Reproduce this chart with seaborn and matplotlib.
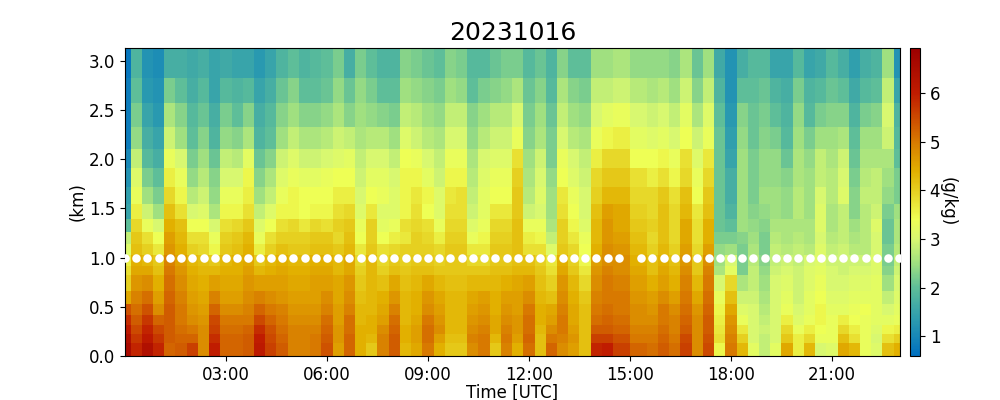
import seaborn as sns
import numpy as np
import matplotlib.pyplot as plt
import pandas as pd

# time of each profile in hours, every 20 min, the 15:00 one is missing
hours = [k / 3 for k in range(70) if k != 45]
# altitude edges of the rows (km), from top to bottom
alt_edges = [3.127, 2.82, 2.57, 2.32, 2.10, 1.91, 1.72, 1.54, 1.39, 1.26, 1.14,
             1.03, 0.91, 0.82, 0.66, 0.53, 0.42, 0.31, 0.22, 0.13, 0.0]
tick_hours = [3, 6, 9, 12, 15, 18, 21]
tick_labels = ['03:00', '06:00', '09:00', '12:00', '15:00', '18:00', '21:00']
dot_alt = 1.0

# colour stops of the bar, value and colour
cmap_stops = [0.59, 1.3, 2.0, 2.5, 3.0, 3.4, 4.0, 4.4, 5.0, 5.5, 6.0, 6.93]
cmap_colors = ['#0070c0', '#2a9ab0', '#5fbf98', '#a0e080', '#d8f870', '#eeff55',
               '#e6d020', '#e2b000', '#d87a00', '#cc4a00', '#c01c00', '#9c0000']
vmin, vmax = 0.59, 6.93

# mixing ratio (g/kg), one list per altitude row, top row first
q = [
    [0.7, 1.8, 1.2, 1.1, 1.7, 1.7, 1.6, 1.7, 1.5, 1.6, 1.5, 1.5, 1.3, 1.5, 1.8, 2.0, 1.8, 1.9, 2.0, 2.2, 1.7, 2.2, 2.0,
     1.8, 1.8, 2.3, 2.2, 2.1, 2.0, 2.3, 2.2, 1.9, 1.9, 2.1, 2.2, 2.2, 1.9, 2.1, 1.8, 2.3, 2.0, 2.0, 2.5, 2.5, 2.6,
     2.4, 2.4, 2.4, 2.3, 2.6, 2.1, 2.5, 1.6, 1.2, 1.7, 1.9, 1.9, 1.5, 1.5, 1.9, 1.5, 1.6, 1.9, 1.7, 1.4, 1.7, 1.8, 2.5, 1.2],
    [0.8, 2.0, 1.3, 1.2, 2.2, 2.0, 1.7, 1.9, 1.5, 1.9, 1.8, 1.9, 1.5, 1.7, 2.1, 2.3, 2.0, 2.0, 2.1, 2.4, 2.1, 2.4, 2.2,
     2.0, 2.0, 2.5, 2.4, 2.3, 2.2, 2.5, 2.4, 2.0, 2.2, 2.3, 2.4, 2.6, 2.1, 2.3, 1.9, 2.6, 2.3, 2.2, 2.8, 2.8, 2.9,
     2.7, 2.6, 2.7, 2.5, 2.9, 2.3, 2.8, 1.8, 1.2, 2.0, 2.0, 2.1, 1.8, 1.7, 2.2, 1.8, 1.9, 2.1, 2.0, 1.6, 1.9, 2.0, 2.8, 1.5],
    [0.8, 2.2, 1.5, 1.3, 2.6, 2.3, 1.9, 2.1, 1.7, 2.2, 2.0, 2.3, 1.7, 1.9, 2.3, 2.5, 2.3, 2.3, 2.4, 2.6, 2.3, 2.5, 2.4,
     2.3, 2.2, 2.8, 2.7, 2.5, 2.4, 2.8, 2.8, 2.3, 2.5, 2.7, 2.7, 3.0, 2.2, 2.5, 2.1, 2.8, 2.5, 2.4, 3.0, 3.2, 3.3,
     3.0, 2.9, 3.0, 2.8, 3.2, 2.6, 3.1, 2.0, 1.3, 2.3, 2.1, 2.2, 2.0, 1.8, 2.4, 1.9, 2.2, 2.3, 2.3, 1.8, 2.2, 2.3, 3.0, 1.8],
    [0.8, 2.4, 1.7, 1.5, 2.9, 2.5, 2.0, 2.3, 1.8, 2.4, 2.3, 2.6, 1.8, 2.0, 2.5, 2.8, 2.6, 2.6, 2.7, 2.9, 2.8, 2.6, 2.7,
     2.7, 2.5, 3.1, 2.9, 2.7, 2.6, 3.0, 3.0, 2.4, 2.7, 2.9, 2.9, 3.3, 2.3, 2.6, 2.2, 3.0, 2.7, 2.6, 3.3, 3.5, 3.6,
     3.2, 3.1, 3.2, 3.0, 3.4, 2.9, 3.3, 2.1, 1.4, 2.4, 2.1, 2.3, 2.2, 1.9, 2.5, 2.2, 2.5, 2.5, 2.6, 2.0, 2.5, 2.5, 2.9, 1.9],
    [1.0, 2.8, 1.9, 1.7, 3.3, 3.0, 2.2, 2.5, 2.1, 2.8, 2.7, 3.2, 2.1, 2.3, 2.9, 3.1, 2.9, 2.9, 3.0, 3.1, 3.2, 2.8, 3.0,
     3.0, 2.8, 3.4, 3.3, 3.0, 2.8, 3.3, 3.3, 2.6, 3.0, 3.1, 3.1, 3.8, 2.5, 2.9, 2.2, 3.3, 3.0, 2.8, 3.6, 3.9, 3.9,
     3.4, 3.4, 3.5, 3.3, 3.8, 3.1, 3.7, 2.1, 1.5, 2.5, 2.2, 2.4, 2.4, 2.1, 2.6, 2.4, 2.8, 2.6, 2.9, 2.1, 2.6, 2.6, 2.6, 2.0],
    [1.2, 3.1, 2.2, 2.0, 3.6, 3.3, 2.4, 2.7, 2.3, 3.0, 3.0, 3.5, 2.3, 2.6, 3.1, 3.3, 3.2, 3.2, 3.3, 3.4, 3.4, 2.9, 3.2,
     3.2, 3.0, 3.5, 3.5, 3.2, 2.9, 3.5, 3.5, 2.7, 3.1, 3.3, 3.3, 4.0, 2.6, 3.0, 2.4, 3.4, 3.1, 2.9, 3.9, 4.1, 4.1,
     3.8, 3.6, 3.8, 3.5, 3.9, 3.3, 3.9, 2.1, 1.7, 2.5, 2.2, 2.4, 2.4, 2.3, 2.6, 2.5, 2.8, 2.7, 3.0, 2.2, 2.7, 2.8, 2.5, 2.2],
    [1.4, 3.3, 2.5, 2.2, 3.9, 3.5, 2.7, 2.9, 2.4, 3.3, 3.3, 3.6, 2.5, 2.8, 3.3, 3.5, 3.4, 3.4, 3.4, 3.6, 3.6, 3.0, 3.4,
     3.3, 3.1, 3.5, 3.7, 3.5, 3.1, 3.7, 3.8, 2.8, 3.2, 3.4, 3.4, 4.1, 2.7, 3.1, 2.5, 3.7, 3.3, 3.0, 4.0, 4.3, 4.3,
     3.9, 3.9, 4.1, 3.8, 4.2, 3.4, 4.1, 2.1, 1.7, 2.5, 2.2, 2.5, 2.5, 2.4, 2.7, 2.5, 3.0, 2.7, 3.1, 2.3, 2.8, 2.8, 2.4, 2.2],
    [1.5, 3.6, 2.9, 2.5, 4.2, 3.8, 3.0, 3.1, 2.6, 3.5, 3.5, 3.8, 2.8, 3.1, 3.5, 3.5, 3.4, 3.5, 3.5, 3.8, 3.9, 3.1, 3.7,
     3.1, 3.1, 3.5, 3.8, 3.4, 3.1, 3.8, 3.8, 2.9, 3.2, 3.7, 3.7, 4.1, 2.9, 3.0, 2.5, 3.8, 3.4, 3.0, 4.2, 4.6, 4.5,
     4.0, 3.9, 4.2, 3.9, 4.3, 3.7, 4.2, 2.1, 1.8, 2.5, 2.3, 2.4, 2.5, 2.4, 2.7, 2.5, 3.1, 2.6, 2.8, 2.3, 2.7, 2.9, 2.2, 2.5],
    [2.0, 3.9, 3.3, 3.0, 4.4, 4.2, 3.4, 3.4, 3.0, 3.8, 3.9, 4.1, 3.1, 3.4, 3.8, 3.9, 3.7, 3.9, 3.8, 4.0, 4.1, 3.3, 4.0,
     3.2, 3.3, 3.8, 3.9, 3.8, 3.3, 3.9, 3.9, 3.1, 3.3, 3.9, 3.9, 4.2, 3.3, 3.3, 2.6, 4.0, 3.5, 3.1, 4.3, 4.7, 4.5,
     4.1, 4.0, 4.2, 3.9, 4.5, 3.8, 4.4, 2.1, 2.0, 2.5, 2.4, 2.3, 2.6, 2.6, 2.6, 2.6, 3.1, 2.6, 2.8, 2.5, 2.7, 3.1, 2.1, 2.6],
    [2.8, 4.1, 3.8, 3.4, 4.6, 4.3, 3.8, 3.8, 3.3, 4.0, 4.1, 4.3, 3.3, 3.8, 4.0, 4.0, 4.0, 4.1, 4.1, 3.9, 4.2, 3.4, 4.0,
     3.4, 3.6, 3.7, 4.0, 3.9, 3.6, 4.0, 4.0, 3.3, 3.5, 4.0, 4.0, 4.2, 3.6, 3.5, 2.8, 4.0, 3.7, 3.3, 4.3, 4.7, 4.6,
     4.2, 3.9, 4.2, 3.9, 4.5, 3.8, 4.4, 2.2, 2.2, 2.3, 2.5, 2.2, 2.7, 2.6, 2.7, 2.6, 3.0, 2.7, 2.8, 2.6, 2.7, 3.0, 2.1, 2.6],
    [3.1, 4.2, 4.0, 3.7, 4.7, 4.4, 4.0, 3.9, 3.5, 4.1, 4.2, 4.4, 3.6, 4.0, 4.2, 4.1, 4.1, 4.2, 4.2, 4.1, 4.3, 3.7, 4.1,
     3.8, 3.9, 4.0, 4.0, 4.0, 3.9, 4.1, 4.1, 3.7, 3.7, 4.1, 4.1, 4.2, 3.8, 3.8, 3.1, 4.1, 3.9, 3.4, 4.4, 4.8, 4.7,
     4.3, 4.0, 4.3, 4.0, 4.6, 3.9, 4.6, 2.4, 2.5, 2.2, 2.6, 2.2, 2.8, 2.7, 2.8, 2.7, 3.1, 2.8, 2.9, 2.7, 2.7, 3.0, 2.2, 2.7],
    [3.6, 4.4, 4.3, 4.1, 4.9, 4.6, 4.3, 4.2, 4.1, 4.3, 4.4, 4.5, 4.1, 4.3, 4.4, 4.3, 4.3, 4.4, 4.4, 4.3, 4.5, 3.9, 4.3,
     3.9, 4.1, 4.0, 4.1, 4.1, 4.0, 4.1, 4.1, 3.9, 3.9, 4.1, 4.1, 4.2, 4.2, 4.0, 3.7, 4.4, 4.0, 3.5, 4.6, 4.8, 4.8,
     4.4, 4.2, 4.4, 4.2, 4.7, 4.1, 4.8, 2.5, 3.0, 2.2, 2.7, 2.3, 2.8, 2.9, 2.8, 3.0, 3.1, 2.9, 2.9, 2.9, 2.9, 3.1, 2.2, 2.8],
    [3.8, 4.5, 4.5, 4.2, 5.0, 4.7, 4.4, 4.3, 4.3, 4.4, 4.4, 4.6, 4.3, 4.4, 4.5, 4.4, 4.4, 4.5, 4.5, 4.3, 4.5, 4.0, 4.3,
     4.0, 4.2, 4.1, 4.2, 4.2, 4.1, 4.1, 4.1, 4.1, 4.1, 4.2, 4.2, 4.3, 4.3, 4.1, 3.8, 4.5, 4.1, 3.7, 4.7, 4.9, 4.8,
     4.5, 4.2, 4.5, 4.3, 4.8, 4.1, 4.9, 2.6, 3.2, 2.2, 2.8, 2.4, 2.9, 3.0, 2.9, 3.1, 3.2, 3.0, 2.9, 3.0, 3.0, 3.1, 2.3, 2.9],
    [4.0, 4.7, 4.8, 4.4, 5.1, 4.8, 4.5, 4.4, 4.6, 4.5, 4.5, 4.7, 4.6, 4.6, 4.6, 4.5, 4.5, 4.6, 4.6, 4.5, 4.7, 4.1, 4.3,
     4.2, 4.5, 4.2, 4.3, 4.5, 4.3, 4.2, 4.2, 4.3, 4.3, 4.3, 4.4, 4.5, 4.6, 4.2, 4.0, 4.7, 4.3, 3.9, 4.8, 5.0, 4.9,
     4.6, 4.4, 4.6, 4.4, 4.9, 4.3, 5.0, 3.0, 3.9, 2.6, 2.8, 2.5, 3.0, 3.1, 2.9, 3.1, 3.3, 3.0, 3.0, 3.1, 3.1, 3.2, 2.5, 3.0],
    [4.5, 4.9, 5.1, 4.6, 5.2, 4.9, 4.6, 4.5, 4.9, 4.6, 4.6, 4.8, 4.9, 4.8, 4.7, 4.6, 4.6, 4.6, 4.8, 4.5, 4.8, 4.2, 4.3,
     4.4, 4.7, 4.3, 4.4, 4.7, 4.5, 4.3, 4.3, 4.5, 4.6, 4.4, 4.6, 4.6, 4.8, 4.3, 4.2, 4.8, 4.4, 4.1, 4.9, 5.0, 5.0,
     4.7, 4.6, 4.8, 4.6, 5.0, 4.5, 5.1, 3.3, 4.2, 2.9, 2.9, 2.6, 3.0, 3.2, 2.9, 3.2, 3.4, 3.1, 3.1, 3.2, 3.2, 3.2, 2.8, 3.1],
    [5.4, 5.1, 5.4, 4.8, 5.3, 5.0, 4.7, 4.6, 5.2, 4.8, 4.8, 4.9, 5.2, 5.0, 4.9, 4.7, 4.7, 4.7, 4.9, 4.6, 4.9, 4.3, 4.3,
     4.5, 4.9, 4.3, 4.4, 4.8, 4.6, 4.3, 4.3, 4.6, 4.7, 4.4, 4.7, 4.6, 5.0, 4.4, 4.5, 4.9, 4.5, 4.2, 5.0, 5.1, 5.0,
     4.8, 4.7, 5.0, 4.8, 5.1, 4.7, 5.2, 3.5, 4.5, 3.1, 3.0, 2.7, 3.0, 3.3, 3.0, 3.2, 3.5, 3.2, 3.2, 3.3, 3.4, 3.2, 3.0, 3.2],
    [5.8, 5.3, 5.7, 5.2, 5.3, 5.0, 4.8, 4.7, 5.5, 5.0, 5.0, 5.0, 5.5, 5.2, 5.0, 4.8, 4.8, 4.8, 5.1, 4.6, 5.1, 4.3, 4.4,
     4.6, 5.1, 4.3, 4.5, 5.0, 4.7, 4.3, 4.3, 4.7, 4.8, 4.5, 4.8, 4.7, 5.1, 4.4, 4.6, 5.0, 4.5, 4.2, 5.1, 5.2, 5.1,
     4.8, 4.8, 5.0, 4.9, 5.2, 4.8, 5.3, 3.6, 4.7, 3.3, 3.0, 2.8, 3.0, 3.6, 3.1, 3.3, 3.5, 3.3, 3.6, 3.4, 3.3, 3.2, 3.2, 3.3],
    [6.1, 5.5, 5.9, 5.5, 5.3, 5.1, 5.0, 4.8, 5.6, 5.1, 5.1, 5.2, 5.8, 5.4, 5.1, 4.9, 4.9, 4.9, 5.2, 4.7, 5.1, 4.4, 4.4,
     4.8, 5.2, 4.4, 4.6, 5.1, 4.8, 4.3, 4.3, 4.8, 4.9, 4.5, 4.9, 4.7, 5.1, 4.3, 4.8, 5.0, 4.6, 4.2, 5.3, 5.3, 5.2,
     4.9, 4.9, 5.1, 4.9, 5.3, 4.8, 5.3, 3.7, 4.8, 3.7, 3.0, 2.9, 3.0, 3.9, 3.3, 3.6, 3.4, 3.3, 3.9, 3.6, 3.3, 3.1, 3.5, 3.6],
    [6.4, 5.7, 6.1, 5.7, 5.3, 5.2, 5.2, 4.8, 5.8, 5.2, 5.2, 5.3, 6.0, 5.5, 5.2, 4.9, 4.9, 5.0, 5.3, 4.7, 5.2, 4.4, 4.3,
     4.9, 5.3, 4.4, 4.6, 5.1, 4.6, 4.2, 4.2, 4.9, 5.0, 4.3, 5.0, 4.6, 5.2, 4.2, 5.0, 4.9, 4.7, 4.2, 5.6, 5.6, 5.4,
     5.0, 5.0, 5.2, 5.0, 5.5, 4.8, 5.4, 3.8, 4.9, 4.0, 3.0, 2.8, 3.0, 4.1, 3.6, 3.9, 3.3, 3.3, 4.2, 3.8, 3.3, 3.0, 3.8, 4.0],
    [6.6, 5.9, 6.4, 5.9, 5.2, 5.3, 5.6, 4.8, 6.0, 5.2, 5.2, 5.3, 6.1, 5.6, 5.3, 4.9, 4.9, 5.0, 5.4, 4.6, 5.2, 4.4, 4.1,
     4.9, 5.3, 4.3, 4.5, 5.0, 4.4, 4.1, 4.1, 4.8, 5.0, 4.1, 4.9, 4.4, 5.1, 4.2, 5.2, 4.8, 4.6, 4.2, 5.9, 6.0, 5.6,
     5.2, 5.1, 5.3, 5.1, 5.6, 4.8, 5.5, 3.5, 5.0, 4.3, 3.2, 2.8, 3.2, 4.5, 3.6, 4.3, 3.0, 3.1, 4.5, 4.3, 3.3, 3.1, 4.2, 4.4],
]

t = np.array(hours)
# cell borders halfway between the profiles
mid = (t[:-1] + t[1:]) / 2
t_edges = np.concatenate([[t[0] - 1 / 6], mid, [t[-1] + 1 / 6]])

pos = [(v - vmin) / (vmax - vmin) for v in cmap_stops]
base = sns.blend_palette(cmap_colors, n_colors=2, as_cmap=True)
cmap = base.from_list('q_cmap', list(zip(pos, cmap_colors)), N=256)

fig = plt.figure(figsize=(10, 4), dpi=100)
ax = fig.add_axes([0.125, 0.11, 0.775, 0.77])
mesh = ax.pcolormesh(t_edges, alt_edges, np.array(q), cmap=cmap, vmin=vmin, vmax=vmax,
                     shading='flat', linewidth=0, rasterized=True)

dots = pd.DataFrame({'t': hours, 'alt': dot_alt})
sns.scatterplot(data=dots, x='t', y='alt', ax=ax, color='white', s=38, linewidth=0, zorder=3)

ax.set_xlim(0, 23.02)
ax.set_ylim(0, 3.127)
ax.set_xticks(tick_hours)
ax.set_xticklabels(tick_labels, fontsize=12)
ax.set_yticks([0, 0.5, 1, 1.5, 2, 2.5, 3])
ax.tick_params(axis='y', labelsize=12)
ax.set_xlabel('Time [UTC]', fontsize=12, labelpad=0)
ax.set_ylabel('(km)', fontsize=12, labelpad=2)
ax.set_title('20231016', fontsize=18)

cax = fig.add_axes([0.91, 0.11, 0.01, 0.77])
cbar = fig.colorbar(mesh, cax=cax)
cbar.set_ticks([1, 2, 3, 4, 5, 6])
cbar.ax.tick_params(labelsize=12)
cbar.set_label('(g/kg)', fontsize=12, rotation=270, labelpad=12)

fig.savefig('out.png', dpi=100)
